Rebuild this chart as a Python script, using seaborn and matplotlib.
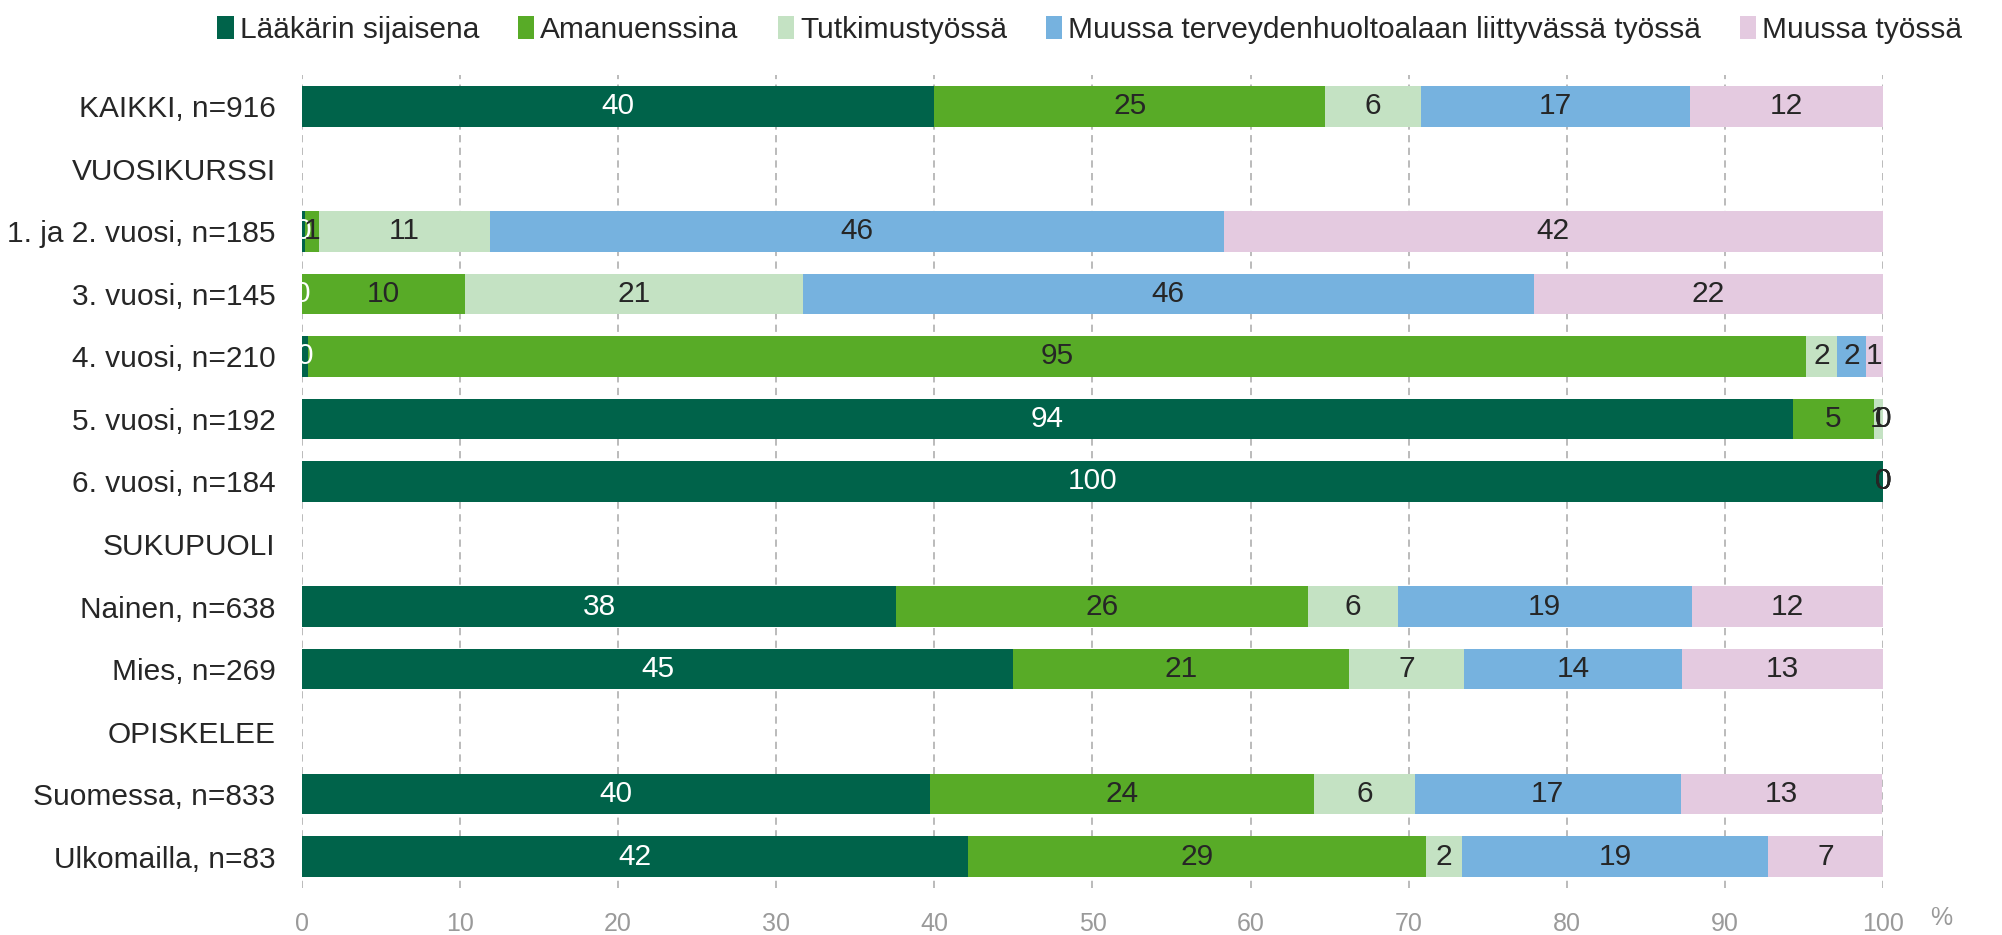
import numpy as np
import pandas as pd
import matplotlib
matplotlib.use("Agg")
import matplotlib.pyplot as plt
from matplotlib.patches import Patch
import seaborn as sns

cats = ["KAIKKI, n=916", "VUOSIKURSSI", "1. ja 2. vuosi, n=185", "3. vuosi, n=145",
        "4. vuosi, n=210", "5. vuosi, n=192", "6. vuosi, n=184", "SUKUPUOLI",
        "Nainen, n=638", "Mies, n=269", "OPISKELEE", "Suomessa, n=833", "Ulkomailla, n=83"]
series = ["Lääkärin sijaisena", "Amanuenssina", "Tutkimustyössä",
          "Muussa terveydenhuoltoalaan liittyvässä työssä", "Muussa työssä"]

# header rows (VUOSIKURSSI, SUKUPUOLI, OPISKELEE) have no bars -> None
laakari = [40.0, None, 0.2, 0.0, 0.4, 94.3, 100.0, None, 37.6, 45.0, None, 39.7, 42.1]
amanuenssi = [24.7, None, 0.9, 10.3, 94.7, 5.1, 0.0, None, 26.0, 21.2, None, 24.3, 29.0]
tutkimus = [6.1, None, 10.8, 21.4, 2.0, 0.6, 0.0, None, 5.7, 7.3, None, 6.4, 2.3]
terveys = [17.0, None, 46.4, 46.2, 1.8, 0.0, 0.0, None, 18.6, 13.8, None, 16.8, 19.3]
muu = [12.2, None, 41.7, 22.1, 1.1, 0.0, 0.0, None, 12.1, 12.7, None, 12.7, 7.3]

colors = ["#00634A", "#58AB27", "#C4E2C3", "#76B2DF", "#E4CAE0"]
txt_colors = ["white", "#262626", "#262626", "#262626", "#262626"]

df = pd.DataFrame({"cat": cats, series[0]: laakari, series[1]: amanuenssi,
                   series[2]: tutkimus, series[3]: terveys, series[4]: muu})
df = df.dropna().reset_index(drop=True)
cum = df[series].cumsum(axis=1)
cum["cat"] = df["cat"]

sns.set_style("white")
plt.rcParams["font.family"] = ["Liberation Sans", "DejaVu Sans"]

fig = plt.figure(figsize=(20.02, 9.35), dpi=100)
ax = fig.add_axes([0.1508, 0.0503, 0.7898, 0.8695])

# stacked bars: draw cumulative totals, widest first
for i in reversed(range(len(series))):
    sns.barplot(data=cum, y="cat", x=series[i], order=cats, color=colors[i],
                width=0.65, orient="h", linewidth=0, saturation=1, ax=ax)

# value labels in the middle of each segment
pos = {c: k for k, c in enumerate(cats)}
for _, row in df.iterrows():
    y = pos[row["cat"]]
    start = 0.0
    for i, s in enumerate(series):
        v = row[s]
        ax.text(start + v / 2, y, f"{round(v):d}", ha="center", va="center",
                fontsize=21.5, color=txt_colors[i])
        start += v

ax.set_xlim(0, 100)
ax.set_xticks(np.arange(0, 101, 10))
ax.set_xlabel("")
ax.set_ylabel("")
ax.xaxis.grid(True, linestyle=(0, (4, 3)), color="#b5b5b5", linewidth=1.3)
ax.set_axisbelow(True)
for sp in ax.spines.values():
    sp.set_visible(False)
ax.tick_params(axis="x", length=0, pad=17, labelsize=18, labelcolor="#9a9a9a")
ax.tick_params(axis="y", length=0, pad=19, labelsize=21.5, labelcolor="#262626")
fig.text(0.9695, 0.018, "%", fontsize=18, color="#9a9a9a", ha="center", va="center")

handles = [Patch(facecolor=c, edgecolor="none") for c in colors]
fig.legend(handles, series, loc="upper center", bbox_to_anchor=(0.5444, 1.012), ncol=5,
           frameon=False, handlelength=0.55, handleheight=0.85, handletextpad=0.2,
           columnspacing=1.3, prop={"size": 21.5}, labelcolor="#262626")

fig.savefig("out.png", dpi=100)
